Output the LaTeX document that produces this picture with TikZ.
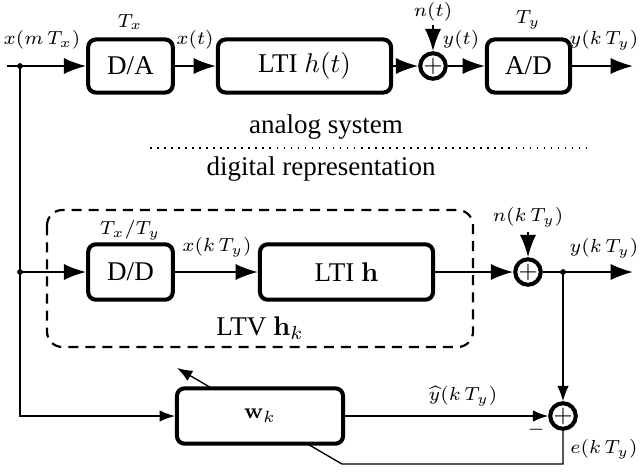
\documentclass[tikz,border=0pt]{standalone}
\usepackage[no-math]{fontspec}
\setmainfont{Liberation Serif}
\usepackage{amsmath}
\usetikzlibrary{arrows.meta,positioning}

\begin{document}
\begin{tikzpicture}[x=0.013cm, y=-0.013cm,
  block/.style  ={draw, line width=1.5pt, rounded corners=1mm,
                  minimum height=0.69cm, inner sep=1mm, fill=white},
  sumnode/.style={draw, circle, line width=1.5pt, minimum size=0.33cm,
                  inner sep=0pt, fill=white},
  lbl/.style    ={font=\fontsize{7.3pt}{9pt}\selectfont, inner sep=0pt},
  dot/.style    ={circle, fill, inner sep=0pt, minimum size=0.75mm},
  arr/.style    ={-{Latex[length=2.9mm,width=2.1mm]}, line width=0.75pt},
  arrs/.style   ={-{Latex[length=2mm,width=1.5mm]}, line width=0.5pt},
  ltvbox/.style ={line width=0.8pt, dash pattern=on 3.7pt off 2.6pt,
                  rounded corners=2mm}
]
  \useasboundingbox (0,0) rectangle (642,471);

  % analog system
  \coordinate (in1)  at (7,66);
  \coordinate (sp1)  at (20,66);
  \coordinate (out1) at (633,66);
  \coordinate (nin1) at (433,25);
  \node[block, minimum width=1.1cm]  (da)   at (130.5,66) {D/A};
  \node[block, minimum width=2.25cm] (lti1) at (304.5,66) {LTI $h(t)$};
  \node[sumnode]                     (add1) at (433,66)   {\small$+$};
  \node[block, minimum width=1.08cm] (ad)   at (528.5,66) {A/D};

  \node[lbl] (lxm)  at (42,40)  {$x(m\,T_x)$};
  \node[lbl] (ltx)  at (130,22) {$T_x$};
  \node[lbl] (lxt)  at (195,40) {$x(t)$};
  \node[lbl] (lnt)  at (433,12) {$n(t)$};
  \node[lbl] (lyt)  at (461,40) {$y(t)$};
  \node[lbl] (lty)  at (528,20) {$T_y$};
  \node[lbl] (lyk1) at (604,40) {$y(k\,T_y)$};

  \draw[arr] (in1) -- (da);
  \draw[arr] (da) -- (lti1);
  \draw[arr] (lti1) -- (add1);
  \draw[arr] (nin1) -- (add1);
  \draw[arr] (add1) -- (ad);
  \draw[arr] (ad) -- (out1);

  % separator
  \coordinate (sepl) at (150,148);
  \coordinate (sepr) at (592,148);
  \node (lanalog)  at (326,127) {analog system};
  \draw[dotted, line width=0.6pt] (sepl) -- (sepr);
  \node (ldigital) at (321,169) {digital representation};

  % digital representation
  \draw[ltvbox] (47,210) rectangle (473,347);
  \coordinate (sp2)  at (20,272);
  \coordinate (sp3)  at (563,272);
  \coordinate (out2) at (633,272);
  \coordinate (nin2) at (528,232);
  \node[block, minimum width=1.1cm, minimum height=0.72cm]  (dd)   at (130.5,272) {D/D};
  \node[block, minimum width=2.25cm, minimum height=0.72cm] (lti2) at (346.5,272) {LTI $\mathbf{h}$};
  \node[sumnode]                                            (add2) at (528,272)   {\small$+$};

  \node[lbl] (ltxty) at (130,230) {$T_x/T_y$};
  \node[lbl] (lxk)   at (217,247) {$x(k\,T_y)$};
  \node      (lltv)  at (260,328) {LTV $\mathbf{h}_k$};
  \node[lbl] (lnk)   at (528,217) {$n(k\,T_y)$};
  \node[lbl] (lyk2)  at (604,248) {$y(k\,T_y)$};

  \draw[arr] (sp2) -- (dd);
  \draw[arr] (dd) -- (lti2);
  \draw[arr] (lti2) -- (add2);
  \draw[arr] (nin2) -- (add2);
  \draw[arr] (add2) -- (out2);

  % adaptive estimate
  \coordinate (fbc)   at (342,464);
  \coordinate (fbtip) at (177,368);
  \node[sumnode] (add3) at (563,416) {\small$+$};
  \draw[arrs] (add3) |- (fbc) -- (fbtip);
  \node[block, minimum width=2.16cm, minimum height=0.72cm] (wk) at (260,416) {\footnotesize$\mathbf{w}_k$};

  \node[lbl] (lyhat)  at (463,396) {$\widehat{y}(k\,T_y)$};
  \node[lbl] (lminus) at (536,430) {$-$};
  \node[lbl] (lek)    at (604,449) {$e(k\,T_y)$};

  \draw[arrs] (sp1) |- (wk);
  \draw[arrs] (sp3) -- (add3);
  \draw[arrs] (wk) -- (add3);

  \node[dot] (d1) at (sp1) {};
  \node[dot] (d2) at (sp2) {};
  \node[dot] (d3) at (sp3) {};
\end{tikzpicture}
\end{document}
